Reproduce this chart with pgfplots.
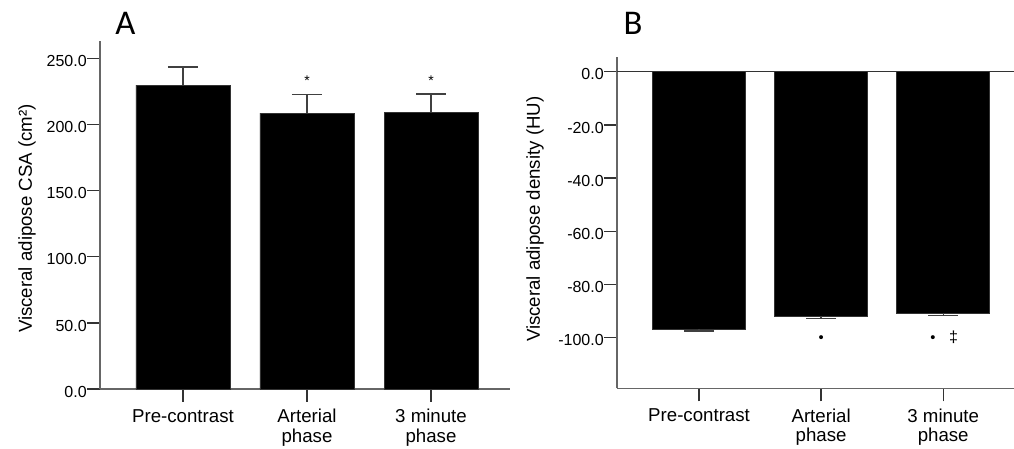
\documentclass[border=0pt]{standalone}
\usepackage{fontspec}
\setmainfont{Liberation Sans}
\newfontfamily\calfont{Carlito}
\usepackage{pgfplots}
\usepackage{pgfplotstable}
\pgfplotsset{compat=1.18}

\pgfplotstableread{
x y err
0 229.6 13.8
1 208.5 14.3
2 209.0 14.0
}\dataA
\pgfplotstableread{
x y err
0 -96.7 0.8
1 -91.8 0.9
2 -90.8 0.9
}\dataB

\pgfplotsset{
  panel/.style={
    scale only axis,
    clip=false,
    axis lines*=left,
    axis line style={black!60, line width=1pt},
    tick align=outside,
    major tick length=9.75pt,
    tick style={black!80, line width=1pt},
    xtick={0,1,2},
    xticklabels={Pre-contrast,Arterial\\phase,3 minute\\phase},
    xticklabel style={font=\fontsize{14}{14.5}\selectfont, align=center, yshift=-2pt},
    yticklabel style={font=\fontsize{12}{14}\selectfont, inner sep=0pt, xshift=0pt, yshift=-2pt},
    ylabel style={font=\fontsize{14}{16}\selectfont, anchor=center},
    /pgf/number format/assume math mode=true,
    yticklabel={\pgfmathprintnumber[fixed,fixed zerofill,precision=1]{\tick}},
  }
}

\begin{document}
\begin{tikzpicture}
\path[use as bounding box] (0pt,0pt) rectangle (760.5pt,336.75pt);

% Panel A
\begin{axis}[panel,
  at={(75pt,45pt)}, anchor=south west,
  width=307.5pt, height=261pt,
  xmin=-0.669, xmax=2.637,
  ymin=0, ymax=263,
  ytick={0,50,100,150,200,250},
  ylabel={Visceral adipose CSA (cm²)},
  ylabel style={at={(axis description cs:-0.178,0.49)}},
]
\addplot[ybar, bar width=0.758, fill=black, draw=black!80, line width=0.6pt,
  error bars/.cd, y dir=plus, y explicit,
  error bar style={black!75, line width=1pt},
  error mark options={rotate=90, mark size=11.25pt, black!75, line width=1pt}]
  table[x=x, y=y, y error=err]{\dataA};
\node[anchor=base, font=\fontsize{10.5}{11}\selectfont] at (axis cs:1,229.4) {*};
\node[anchor=base, font=\fontsize{10.5}{11}\selectfont] at (axis cs:2,229.4) {*};
\end{axis}

% Panel B
\begin{axis}[panel,
  at={(462.75pt,45.5pt)}, anchor=south west,
  width=297.75pt, height=248.7pt,
  xmin=-0.672, xmax=2.58,
  ymin=-119, ymax=5.6,
  ytick={0,-20,-40,-60,-80,-100},
  ylabel={Visceral adipose density (HU)},
  ylabel style={at={(axis description cs:-0.2065,0.51)}},
]
\addplot[ybar, bar width=0.762, fill=black, draw=black!80, line width=0.6pt,
  error bars/.cd, y dir=minus, y explicit,
  error bar style={black!75, line width=1pt},
  error mark options={rotate=90, mark size=11.25pt, black!75, line width=1pt}]
  table[x=x, y=y, y error=err]{\dataB};
\draw[black!80, line width=1pt] (axis cs:-0.672,0) -- (axis cs:2.58,0);
\node[anchor=base, font=\fontsize{11}{12}\selectfont] at (axis cs:1,-101.6) {•};
\node[anchor=base, font=\fontsize{11}{12}\selectfont] at (axis cs:1.916,-101.6) {•};
\node[anchor=base, font=\fontsize{12}{13}\selectfont] at (axis cs:2.085,-101.6) {‡};
\end{axis}

\node[anchor=base, font=\calfont\fontsize{26}{26}\selectfont] at (94.1pt,310.9pt) {A};
\node[anchor=base, font=\calfont\fontsize{26}{26}\selectfont] at (474.75pt,310.9pt) {B};
\end{tikzpicture}
\end{document}
